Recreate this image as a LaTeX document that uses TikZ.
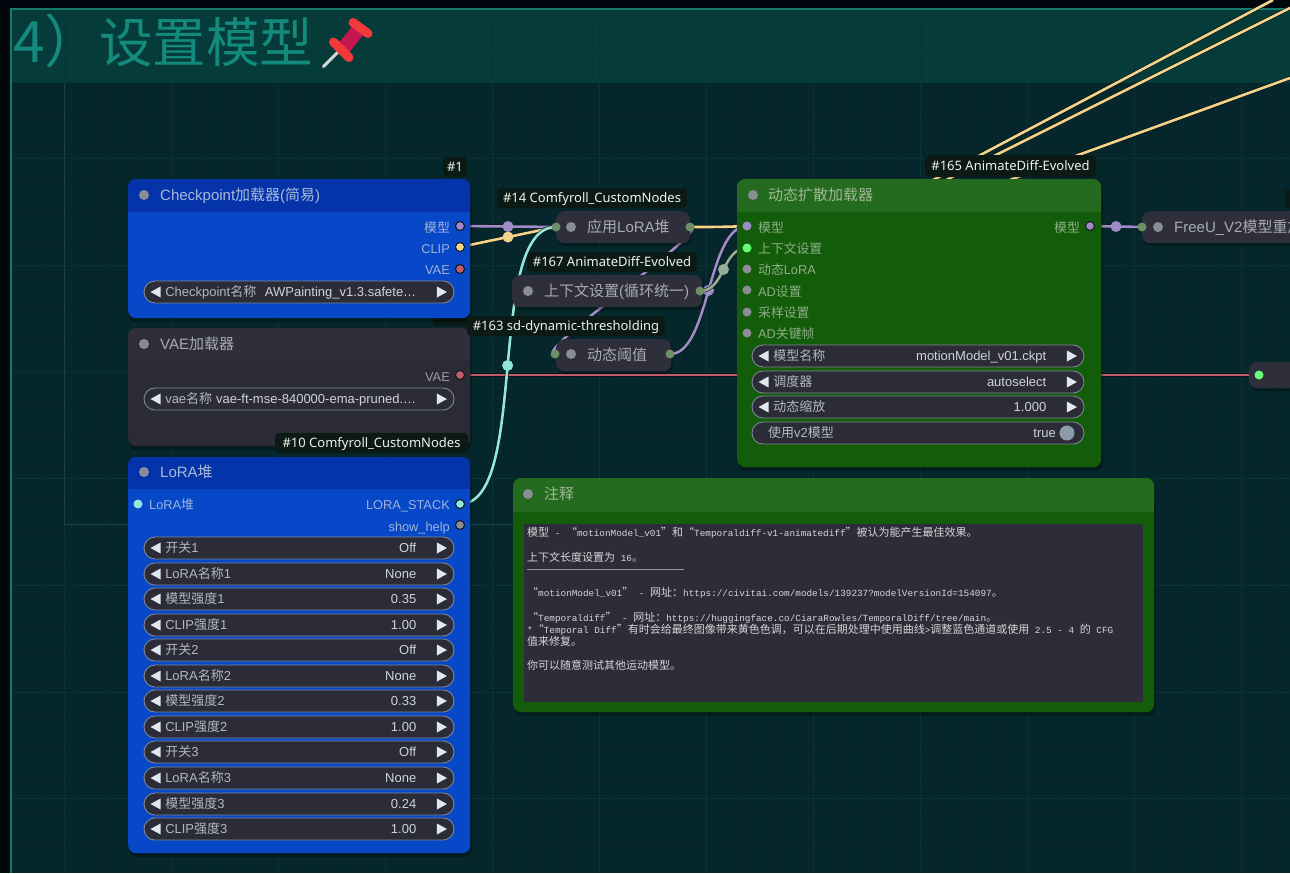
\documentclass[tikz,border=0pt]{standalone}
\usepackage{fontspec}
\setmainfont{Liberation Sans}
\newfontfamily\cjk{Noto Sans CJK SC}
\newfontfamily\tagfont{Noto Sans}
\newfontfamily\notemono{Liberation Mono}
\newcommand\C[1]{{\cjk #1}}
\newcommand\NC[1]{{\cjk\fontsize{11pt}{12pt}\selectfont #1}}
\definecolor{outerbg}{HTML}{01060D}
\definecolor{groupbody}{HTML}{05272B}
\definecolor{grouphead}{HTML}{053C39}
\definecolor{gridc}{HTML}{0B3336}
\definecolor{gridb}{HTML}{14424E}
\definecolor{dotc}{HTML}{0F4042}
\definecolor{groupedge}{HTML}{167A6E}
\definecolor{titlec}{HTML}{138A7C}
\definecolor{bluehead}{HTML}{0534AA}
\definecolor{bluebody}{HTML}{0748C8}
\definecolor{greenhead}{HTML}{256B1F}
\definecolor{greenbody}{HTML}{135C0A}
\definecolor{grayhead}{HTML}{2E2F39}
\definecolor{graybody}{HTML}{2A2B35}
\definecolor{colnode}{HTML}{2E2F3A}
\definecolor{pillc}{HTML}{2B2C38}
\definecolor{pilledge}{HTML}{7F8797}
\definecolor{lblblue}{HTML}{9FB3D8}
\definecolor{lblgreen}{HTML}{8FAE88}
\definecolor{lblgray}{HTML}{9A9CA6}
\definecolor{ttlblue}{HTML}{A9B9D9}
\definecolor{ttlgreen}{HTML}{9FB896}
\definecolor{ttlgray}{HTML}{A9ABB3}
\definecolor{pillt}{HTML}{B4B8C2}
\definecolor{pillv}{HTML}{D0D3DA}
\definecolor{arrowc}{HTML}{E2E6EE}
\definecolor{dotgray}{HTML}{8A8C96}
\definecolor{pmodel}{HTML}{9E8CC8}
\definecolor{pclip}{HTML}{F4D48A}
\definecolor{pvae}{HTML}{C25B6A}
\definecolor{pstack}{HTML}{8FE8D8}
\definecolor{pctx}{HTML}{66FF77}
\definecolor{polive}{HTML}{6D8F65}
\definecolor{pctxl}{HTML}{97AD95}
\definecolor{linkdark}{HTML}{10141C}
\definecolor{tagbg}{HTML}{0B1A14}
\definecolor{tagt}{HTML}{F0F2EE}
\definecolor{notet}{HTML}{D6D6D6}
\definecolor{noteb}{HTML}{2C2D39}
\definecolor{pinred}{HTML}{F23A3A}
\definecolor{pindark}{HTML}{C4174F}
\definecolor{pinneedle}{HTML}{D4D6D8}
\definecolor{knobc}{HTML}{8C9BAA}
\pgfdeclarelayer{bg}
\pgfdeclarelayer{links}
\pgfsetlayers{bg,links,main}
\tikzset{
  box/.style={anchor=north west,inner sep=0,rounded corners=8pt,draw=none},
  pill/.style={draw=pilledge,line width=.9pt,fill=pillc,rounded corners=11pt,inner sep=0,minimum height=22pt},
  port/.style={circle,inner sep=0,minimum size=9pt,draw=none},
  oport/.style={circle,inner sep=0,minimum size=9pt,draw=linkdark,line width=1pt},
  sdot/.style={circle,inner sep=0,minimum size=10pt,fill=dotgray},
  middot/.style={circle,inner sep=0,minimum size=11pt},
  lk/.style={double=#1,double distance=2.6pt,line width=.6pt,draw=linkdark},
  tl/.style={anchor=base west,inner sep=0,yshift=-5pt},
  tr/.style={anchor=base east,inner sep=0,yshift=-5pt},
  tc/.style={anchor=base,inner sep=0,yshift=-5pt},
  fl/.style={font=\fontsize{12.8pt}{14pt}\selectfont},
  ft/.style={font=\fontsize{15pt}{17pt}\selectfont},
  tagbox/.style={fill=tagbg,rounded corners=4pt,inner sep=0,text=tagt,text height=11pt,text depth=2pt,
     font=\tagfont\fontsize{13pt}{15pt}\selectfont,minimum height=20pt},
  nt/.style={anchor=base west,inner sep=0,text=notet,font=\notemono\fontsize{9.35pt}{12pt}\selectfont},
}
\newcounter{lb}
\newcommand\lab[4]{\stepcounter{lb}\node[#1,name=t\thelb] at (#2,#3) {#4};}
% name x1 y1 x2 y2 yhead head body
\newcommand\nbox[8]{%
  \pgfmathsetmacro\bw{#4-#2}\pgfmathsetmacro\bh{#5-#3}%
  \fill[black,opacity=.28,rounded corners=8pt] (#2+1,#3+3) rectangle (#4+2,#5+4);
  \node[box,fill=#8,minimum width=\bw pt,minimum height=\bh pt] (#1) at (#2,#3) {};
  \fill[#7,rounded corners=8pt] (#2,#6) -- (#2,#3) -- (#4,#3) -- (#4,#6) -- cycle;
  \fill[#7] (#2,#6-8) rectangle (#4,#6);
}
\newcommand\cbox[5]{%
  \pgfmathsetmacro\bw{#4-#2}\pgfmathsetmacro\bh{#5-#3}%
  \fill[black,opacity=.28,rounded corners=8pt] (#2+1,#3+2) rectangle (#4+2,#5+3);
  \node[box,fill=colnode,minimum width=\bw pt,minimum height=\bh pt] (#1) at (#2,#3) {};
}
% name cx cy width label value
\newcommand\wdg[6]{%
  \node[pill,minimum width=#4 pt] (#1) at (#2,#3) {};
  \fill[arrowc] ([xshift=7pt]#1.west) -- ([xshift=17pt,yshift=5.5pt]#1.west) -- ([xshift=17pt,yshift=-5.5pt]#1.west) -- cycle;
  \fill[arrowc] ([xshift=-7.5pt]#1.east) -- ([xshift=-17.5pt,yshift=5.5pt]#1.east) -- ([xshift=-17.5pt,yshift=-5.5pt]#1.east) -- cycle;
  \node[anchor=base west,inner sep=0,text=pillt,font=\fontsize{13pt}{14pt}\selectfont,yshift=-4.6pt] (#1l) at ([xshift=21.5pt]#1.west) {#5};
  \node[anchor=base east,inner sep=0,text=pillv,font=\fontsize{13pt}{14pt}\selectfont,yshift=-4.6pt] (#1v) at ([xshift=-38pt]#1.east) {#6};
}
\begin{document}
\begin{tikzpicture}[x=1pt,y=-1pt]
\useasboundingbox (0,0) rectangle (1290,873);
\begin{pgfonlayer}{bg}
\fill[outerbg] (0,0) rectangle (1290,873);
\fill[groupbody] (11,9) rectangle (1290,873);
\fill[grouphead] (11,9) rectangle (1290,83);
% dots
\foreach \y in {14,24.7,...,873}{\draw[dotc,line width=1pt,dash pattern=on 1pt off 9.7pt] (17,\y) -- (1290,\y);}
% grid
\foreach \x in {64,171,278,385,492,599,706,813,920,1027,1134,1241}{\draw[gridc,line width=.9pt] (\x,9) -- (\x,873);}
\foreach \y in {51.5,158,265,371.5,478,585,692,798.5}{\draw[gridc,line width=.9pt] (11,\y) -- (1290,\y);}
\draw[gridb,line width=.9pt] (64,83) -- (64,524.5) -- (514,524.5);
\draw[groupedge,line width=1.3pt] (1290,9) -- (11,9) -- (11,873);
% title
\node[anchor=base west,inner sep=0,text=titlec,font=\cjk\fontsize{57pt}{60pt}\selectfont] (heading) at (13,62) {4）};
\node[anchor=base west,inner sep=0,text=titlec,font=\cjk\fontsize{53.5pt}{60pt}\selectfont] (headingb) at (99,62) {设置模型};
% pin
\draw[line width=3pt,color=pinneedle,line cap=round] (323.5,66.5) -- (340,50);
\draw[line width=14pt,color=pindark] (359,29) -- (343,49);
\draw[line width=9pt,color=pinred,line cap=round] (353,22.5) -- (368,33.5);
\draw[line width=9pt,color=pinred,line cap=round] (333.5,42) -- (349,57.5);
\end{pgfonlayer}
% hidden tag behind the checkpoint node
\fill[tagbg,rounded corners=3pt] (433,305) rectangle (470,326);
% Checkpoint
\nbox{ckpt}{128}{179}{470}{318}{212}{bluehead}{bluebody}
\node[sdot] (ckptd) at (144,195) {};
\lab{tl,ft,text=ttlblue}{160}{195}{Checkpoint\C{加载器}(\C{简易})}
\lab{tr,fl,text=lblblue}{450}{227}{\C{模型}}
\lab{tr,fl,text=lblblue}{450}{248}{CLIP}
\lab{tr,fl,text=lblblue}{450}{269}{VAE}
\node[oport,fill=pmodel] (ckptm) at (460,226) {};
\node[oport,fill=pclip] (ckptc) at (460,247) {};
\node[oport,fill=pvae] (ckptv) at (460,269) {};
\wdg{wckpt}{299}{292}{310}{Checkpoint\C{名称}}{AWPainting\_v1.3.safete…}
% VAE
\nbox{vae}{128}{328}{470}{446}{360}{grayhead}{graybody}
\node[sdot] (vaed) at (144,344) {};
\lab{tl,ft,text=ttlgray}{160}{344}{VAE\C{加载器}}
\lab{tr,fl,text=lblgray}{450}{376}{VAE}
\node[oport,fill=pvae] (vaev) at (460,375) {};
\wdg{wvae}{299}{399}{310}{vae\C{名称}}{vae-ft-mse-840000-ema-pruned.…}
% LoRA stack
\nbox{stack}{128}{457}{470}{853}{489}{bluehead}{bluebody}
\node[sdot] (stackd) at (144,472) {};
\lab{tl,ft,text=ttlblue}{160}{472}{LoRA\C{堆}}
\node[port,fill=pstack] (stacki) at (138,504) {};
\lab{tl,fl,text=lblblue}{149}{504}{LoRA\C{堆}}
\lab{tr,fl,text=lblblue}{450}{504}{LORA\_STACK}
\lab{tr,fl,text=lblblue}{450}{526}{show\_help}
\node[oport,fill=pstack] (stacko) at (460,504) {};
\node[oport,fill=dotgray] (stackh) at (460,525) {};
\wdg{wa}{299}{548}{310}{\C{开关}1}{Off}
\wdg{wb}{299}{574}{310}{LoRA\C{名称}1}{None}
\wdg{wc}{299}{599}{310}{\C{模型强度}1}{0.35}
\wdg{wd}{299}{625}{310}{CLIP\C{强度}1}{1.00}
\wdg{we}{299}{650}{310}{\C{开关}2}{Off}
\wdg{wf}{299}{676}{310}{LoRA\C{名称}2}{None}
\wdg{wg}{299}{701}{310}{\C{模型强度}2}{0.33}
\wdg{wh}{299}{727}{310}{CLIP\C{强度}2}{1.00}
\wdg{wi}{299}{752}{310}{\C{开关}3}{Off}
\wdg{wj}{299}{778}{310}{LoRA\C{名称}3}{None}
\wdg{wk}{299}{804}{310}{\C{模型强度}3}{0.24}
\wdg{wl}{299}{829}{310}{CLIP\C{强度}3}{1.00}
% collapsed nodes
\cbox{apply}{556}{211}{690}{243}
\node[port,fill=polive] (applyi) at (556,227) {};
\node[port,fill=polive] (applyo) at (690,227) {};
\node[sdot] (applyd) at (571,227) {};
\lab{tl,ft,text=ttlgray}{587}{227}{\C{应用}LoRA\C{堆}}
\cbox{ctx}{512}{275}{702}{307}
\node[port,fill=polive] (ctxo) at (700,291) {};
\node[sdot] (ctxd) at (528,291) {};
\lab{tl,ft,text=ttlgray}{544}{291}{\C{上下文设置}(\C{循环统一})}
\cbox{thr}{556}{339}{671}{371}
\node[port,fill=polive] (thri) at (555,354) {};
\node[port,fill=polive] (thro) at (670,354) {};
\node[sdot] (thrd) at (571,354) {};
\lab{tl,ft,text=ttlgray}{587}{355}{\C{动态阈值}}
\cbox{freeu}{1142}{211}{1320}{243}
\node[port,fill=polive] (freeui) at (1142,227) {};
\node[sdot] (freeud) at (1158,227) {};
\lab{tl,ft,text=ttlgray}{1174}{227}{FreeU\_V2\C{模型重加载}}
\cbox{rnode}{1249}{362}{1320}{388}
\node[port,fill=pctx] (rnodei) at (1259,375) {};
% AnimateDiff
\nbox{anim}{737}{179}{1101}{467}{212}{greenhead}{greenbody}
\node[sdot] (animd) at (753,195) {};
\lab{tl,ft,text=ttlgreen}{768}{195}{\C{动态扩散加载器}}
\node[port,fill=pmodel] (animm) at (747,226) {};
\node[port,fill=pctx] (animc) at (747,248) {};
\node[port,fill=dotgray] (animl) at (747,269) {};
\node[port,fill=dotgray] (anims) at (747,290) {};
\node[port,fill=dotgray] (animt) at (747,312) {};
\node[port,fill=dotgray] (animk) at (747,333) {};
\lab{tl,fl,text=lblgreen}{758}{227}{\C{模型}}
\lab{tl,fl,text=lblgreen}{758}{248}{\C{上下文设置}}
\lab{tl,fl,text=lblgreen}{758}{269}{\C{动态}LoRA}
\lab{tl,fl,text=lblgreen}{758}{291}{AD\C{设置}}
\lab{tl,fl,text=lblgreen}{758}{312}{\C{采样设置}}
\lab{tl,fl,text=lblgreen}{758}{333}{AD\C{关键帧}}
\lab{tr,fl,text=lblgreen}{1080}{227}{\C{模型}}
\node[oport,fill=pmodel] (animo) at (1090,226) {};
\wdg{wm}{918}{356}{332}{\C{模型名称}}{motionModel\_v01.ckpt}
\wdg{wn}{918}{382}{332}{\C{调度器}}{autoselect}
\wdg{wo}{918}{407}{332}{\C{动态缩放}}{1.000}
\node[pill,minimum width=332pt] (wp) at (918,433) {};
\lab{tl,fl,text=pillt,font=\fontsize{13pt}{14pt}\selectfont}{768}{432.6}{\C{使用}v2\C{模型}}
\lab{tr,fl,text=pillv,font=\fontsize{13pt}{14pt}\selectfont}{1056}{432.6}{true}
\node[circle,inner sep=0,minimum size=15pt,fill=knobc] (wpk) at (1067,433) {};
% Note
\nbox{note}{513}{478}{1154}{712}{512}{greenhead}{greenbody}
\node[sdot] (noted) at (528,494) {};
\lab{tl,ft,text=ttlgreen}{544}{494}{\C{注释}}
\node[anchor=north west,inner sep=0,fill=noteb,minimum width=619pt,minimum height=178pt] (notebox) at (524,524) {};
\lab{nt}{527}{536}{\NC{模型} - \NC{“}motionModel\_v01\NC{”和“}Temporaldiff-v1-animatediff\NC{”被认为能产生最佳效果。}}
\lab{nt}{527}{561}{\NC{上下文长度设置为} 16\NC{。}}
\lab{nt}{527}{572}{————————————————————————————}
\lab{nt}{527}{596}{\NC{“}motionModel\_v01\NC{”} - \NC{网址：}https://civitai.com/models/139237?modelVersionId=154097\NC{。}}
\lab{nt}{527}{621}{\NC{“}Temporaldiff\NC{”} - \NC{网址：}https://huggingface.co/CiaraRowles/TemporalDiff/tree/main\NC{。}}
\lab{nt}{527}{633}{*\NC{“}Temporal Diff\NC{”有时会给最终图像带来黄色色调，可以在后期处理中使用曲线}>\NC{调整蓝色通道或使用} 2.5 - 4 \NC{的} CFG}
\lab{nt}{527}{645}{\NC{值来修复。}}
\lab{nt}{527}{669}{\NC{你可以随意测试其他运动模型。}}
% tags
\node[tagbox,minimum width=24pt] (tag1) at (455,167) {\#1};
\node[tagbox,minimum width=190pt] (tag14) at (592,198) {\#14 Comfyroll\_CustomNodes};
\node[tagbox,minimum width=170pt] (tag167) at (612,262) {\#167 AnimateDiff-Evolved};
\node[tagbox,minimum width=198pt] (tag163) at (566,326) {\#163 sd-dynamic-thresholding};
\node[tagbox,minimum width=193pt] (tag10) at (371.5,443) {\#10 Comfyroll\_CustomNodes};
\node[tagbox,minimum width=171pt,minimum height=22pt] (tag165) at (1010.5,166) {\#165 AnimateDiff-Evolved};
\fill[tagbg,rounded corners=3pt] (1285,190) rectangle (1295,208);
% free ends
\coordinate (endA) at (1273,0);
\coordinate (endB) at (1290,8);
\coordinate (endC) at (1290,78);
% connectors
\begin{pgfonlayer}{links}
\draw[lk=pvae] (vaev.center) -- (rnodei.center);
\draw[lk=pclip] (applyo.center) .. controls (800,228) and (880,208) .. (937,178) -- (endA);
\draw[lk=pclip] (applyo.center) .. controls (810,228) and (895,212) .. (950,178) -- (endB);
\draw[lk=pclip] (applyo.center) .. controls (830,228) and (950,205) .. (1015,178) -- (endC);
\draw[lk=pmodel] (applyo.center) .. controls (715,227) and (530,354) .. (thri.center);
\draw[lk=pmodel] (thro.center) .. controls (710,354) and (707,227) .. node[pos=.5,middot,fill=pmodel] (mthr) {} (animm.center);
\draw[lk=pctxl] (ctxo.center) .. controls (725,291) and (722,248) .. node[pos=.5,middot,fill=pctxl] (mctx) {} (animc.center);
\draw[lk=pmodel] (ckptm.center) -- node[pos=.5,middot,fill=pmodel] (mmod) {} (applyi.center);
\draw[lk=pclip] (ckptc.center) -- node[pos=.5,middot,fill=pclip] (mclip) {} (applyi.center);
\draw[lk=pstack] (stacko.center) .. controls (530,504) and (485,227) .. node[pos=.5,middot,fill=pstack] (mstack) {} (applyi.center);
\draw[lk=pmodel] (animo.center) -- node[pos=.5,middot,fill=pmodel] (mfree) {} (freeui.center);
\end{pgfonlayer}
\end{tikzpicture}
\end{document}
